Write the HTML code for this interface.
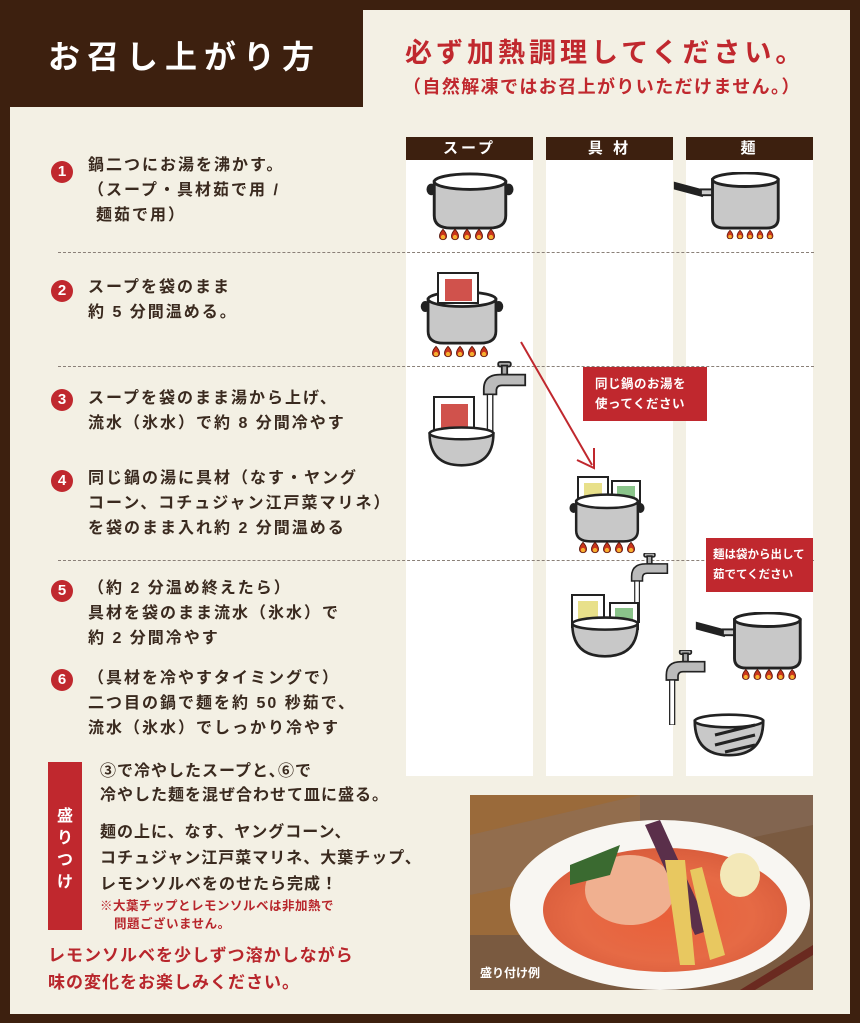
<!DOCTYPE html>
<html><head><meta charset="utf-8"><style>
*{margin:0;padding:0;box-sizing:border-box}
body{width:860px;height:1023px;position:relative;background:#3d200f;font-family:"Liberation Sans","Noto Sans CJK JP",sans-serif;overflow:hidden;color:#3a2a1f;font-weight:bold}
.cream{position:absolute;background:#f3f0e4}
.t{position:absolute;white-space:nowrap;font-size:16px;letter-spacing:2px;line-height:20px}
.num{position:absolute;width:22px;height:22px;border-radius:50%;background:#c0282e;color:#fff;font-size:15px;text-align:center;line-height:22px;left:51px}
.col{position:absolute;top:137px;width:127px;height:639px;background:#fff}
.col div{height:23px;background:#3d200f;color:#fff;text-align:center;font-size:15px;line-height:23px;letter-spacing:3px}
.dash{position:absolute;left:58px;width:756px;border-top:1.5px dashed #8a8078}
.red{color:#b8262c}
.box{position:absolute;background:#c0282e;color:#fff;font-size:12.5px;line-height:20px;letter-spacing:0.5px;padding:7px 0 0 12px;white-space:nowrap;overflow:hidden}
</style></head><body>
<div class="cream" style="left:10px;top:107px;width:840px;height:907px"></div>
<div class="cream" style="left:363px;top:10px;width:487px;height:100px"></div>
<div class="t" style="left:48px;top:37px;font-size:32px;line-height:40px;letter-spacing:7px;color:#fff">お召し上がり方</div>
<div class="t red" style="left:405px;top:37px;font-size:27px;line-height:32px;letter-spacing:4px;color:#c0282e">必ず加熱調理してください。</div>
<div class="t red" style="left:403px;top:76px;font-size:18px;line-height:22px;letter-spacing:1.4px;color:#c0282e">（自然解凍ではお召上がりいただけません。）</div>

<div class="col" style="left:406px"><div>スープ</div></div>
<div class="col" style="left:546px"><div>具 材</div></div>
<div class="col" style="left:686px"><div>麺</div></div>

<div class="dash" style="top:252px"></div>
<div class="dash" style="top:366px"></div>
<div class="dash" style="top:560px"></div>

<div class="num" style="top:161px">1</div>
<div class="t" style="left:88px;top:156px">鍋二つにお湯を沸かす。</div>
<div class="t" style="left:88px;top:181px">（スープ・具材茹で用 /</div>
<div class="t" style="left:96px;top:206px">麺茹で用）</div>
<div class="num" style="top:280px">2</div>
<div class="t" style="left:88px;top:278px">スープを袋のまま</div>
<div class="t" style="left:88px;top:303px">約 5 分間温める。</div>
<div class="num" style="top:389px">3</div>
<div class="t" style="left:88px;top:389px">スープを袋のまま湯から上げ、</div>
<div class="t" style="left:88px;top:414px">流水（氷水）で約 8 分間冷やす</div>
<div class="num" style="top:470px">4</div>
<div class="t" style="left:88px;top:469px">同じ鍋の湯に具材（なす・ヤング</div>
<div class="t" style="left:88px;top:494px">コーン、コチュジャン江戸菜マリネ）</div>
<div class="t" style="left:88px;top:519px">を袋のまま入れ約 2 分間温める</div>
<div class="num" style="top:580px">5</div>
<div class="t" style="left:88px;top:579px">（約 2 分温め終えたら）</div>
<div class="t" style="left:88px;top:604px">具材を袋のまま流水（氷水）で</div>
<div class="t" style="left:88px;top:629px">約 2 分間冷やす</div>
<div class="num" style="top:669px">6</div>
<div class="t" style="left:88px;top:669px">（具材を冷やすタイミングで）</div>
<div class="t" style="left:88px;top:694px">二つ目の鍋で麺を約 50 秒茹で、</div>
<div class="t" style="left:88px;top:719px">流水（氷水）でしっかり冷やす</div>

<div style="position:absolute;left:48px;top:762px;width:34px;height:168px;background:#c0282e;color:#fff;font-size:16px;line-height:22px;text-align:center;padding-top:44px">盛<br>り<br>つ<br>け</div>
<div class="t" style="left:100px;top:762px;letter-spacing:1px">③で冷やしたスープと､⑥で</div>
<div class="t" style="left:100px;top:786px;letter-spacing:1px">冷やした麺を混ぜ合わせて皿に盛る。</div>
<div class="t" style="left:100px;top:823px;letter-spacing:1px">麺の上に、なす、ヤングコーン、</div>
<div class="t" style="left:100px;top:849px;letter-spacing:1px">コチュジャン江戸菜マリネ、大葉チップ、</div>
<div class="t" style="left:100px;top:875px;letter-spacing:1px">レモンソルベをのせたら完成！</div>
<div class="t red" style="left:100px;top:897px;font-size:12.5px;line-height:18px;letter-spacing:0.5px">※大葉チップとレモンソルベは非加熱で</div>
<div class="t red" style="left:114px;top:915px;font-size:12.5px;line-height:18px;letter-spacing:0.5px">問題ございません。</div>
<div class="t red" style="left:48px;top:945px;font-size:17px;line-height:22px;letter-spacing:1px">レモンソルベを少しずつ溶かしながら</div>
<div class="t red" style="left:48px;top:972px;font-size:17px;line-height:22px;letter-spacing:1px">味の変化をお楽しみください。</div>

<svg style="position:absolute;left:470px;top:795px" width="343" height="195">
<defs><radialGradient id="g" cx="0.5" cy="0.55" r="0.6"><stop offset="0" stop-color="#e9603a"/><stop offset="0.6" stop-color="#e66a45"/><stop offset="1" stop-color="#d65a3a"/></radialGradient></defs>
<rect width="343" height="195" fill="#7a5a40"/>
<rect x="0" y="0" width="170" height="140" fill="#9a6a3a"/>
<path d="M0 40 L170 0 L343 0 L343 30 L0 100Z" fill="#8a7060" opacity=".5"/>
<ellipse cx="190" cy="110" rx="150" ry="85" fill="#f8f6f2"/>
<ellipse cx="195" cy="115" rx="122" ry="62" fill="url(#g)"/>
<ellipse cx="160" cy="95" rx="45" ry="35" fill="#f0b090"/>
<path d="M175 30 L225 140 L240 135 L190 25Z" fill="#5a2f4a"/>
<path d="M195 65 L210 170 L225 170 L215 65Z" fill="#e8c860"/>
<path d="M220 75 L240 165 L255 160 L232 72Z" fill="#e8c860"/>
<ellipse cx="270" cy="80" rx="20" ry="22" fill="#f3e8b8"/>
<path d="M100 70 L150 50 L140 80 L100 90Z" fill="#3a6a30"/>
<path d="M270 195 L343 150 L343 160 L285 195Z" fill="#6a2a20"/>
<text x="10" y="182" fill="#fff" font-size="12" font-weight="bold" font-family="Liberation Sans,Noto Sans CJK JP,sans-serif">盛り付け例</text>
</svg>

<svg style="position:absolute;left:0;top:0" width="860" height="1023">
<defs>
<symbol id="fl" viewBox="0 0 70 14"><g fill="#c9341c" stroke="#5a1a10" stroke-width="1"><path d="M7 1 C12 6 13 13 7 13 C1 13 2 6 7 1Z"/><path d="M21 1 C26 6 27 13 21 13 C15 13 16 6 21 1Z"/><path d="M35 1 C40 6 41 13 35 13 C29 13 30 6 35 1Z"/><path d="M49 1 C54 6 55 13 49 13 C43 13 44 6 49 1Z"/><path d="M63 1 C68 6 69 13 63 13 C57 13 58 6 63 1Z"/></g><g fill="#f5b030"><circle cx="7" cy="10" r="2.5"/><circle cx="21" cy="10" r="2.5"/><circle cx="35" cy="10" r="2.5"/><circle cx="49" cy="10" r="2.5"/><circle cx="63" cy="10" r="2.5"/></g></symbol>
<symbol id="pot" viewBox="0 0 90 60"><ellipse cx="5" cy="18" rx="5" ry="6" fill="#222"/><ellipse cx="85" cy="18" rx="5" ry="6" fill="#222"/><path d="M8 10 L8 45 Q8 58 25 58 L65 58 Q82 58 82 45 L82 10Z" fill="#c8c8c8" stroke="#222" stroke-width="3"/><ellipse cx="45" cy="10" rx="37" ry="8" fill="#fff" stroke="#222" stroke-width="3"/></symbol>
<symbol id="pan" viewBox="0 0 110 60"><path d="M0 10 L30 18 L30 26 L0 18Z" fill="#222"/><rect x="28" y="18" width="14" height="6" fill="#ccc" stroke="#222" stroke-width="2"/><path d="M40 8 L40 48 Q40 58 52 58 L96 58 Q108 58 108 48 L108 8Z" fill="#c8c8c8" stroke="#222" stroke-width="3"/><ellipse cx="74" cy="8" rx="34" ry="7" fill="#fff" stroke="#222" stroke-width="3"/></symbol>
<symbol id="bowl" viewBox="0 0 80 50"><path d="M2 10 Q2 48 40 48 Q78 48 78 10Z" fill="#c8c8c8" stroke="#222" stroke-width="3"/><ellipse cx="40" cy="10" rx="38" ry="7" fill="#fff" stroke="#222" stroke-width="3"/></symbol>
<symbol id="tap" viewBox="0 0 50 90"><rect x="18" y="0" width="14" height="5" rx="2" fill="#aaa" stroke="#222" stroke-width="2"/><rect x="22" y="4" width="6" height="10" fill="#aaa" stroke="#222" stroke-width="2"/><path d="M2 30 Q2 14 20 14 L48 14 L48 26 L22 26 Q16 26 16 32 L16 36 L2 36Z" fill="#bbb" stroke="#222" stroke-width="2"/><rect x="6" y="36" width="6" height="54" fill="#fff" stroke="#222" stroke-width="1.5"/></symbol>
</defs>
<use href="#pot" x="425" y="172" width="90" height="58"/>
<use href="#fl" x="437" y="228" width="60" height="13"/>
<use href="#pan" x="672" y="172" width="110" height="58"/>
<use href="#fl" x="725" y="228" width="50" height="13"/>
<rect x="438" y="273" width="40" height="38" fill="#fff" stroke="#222" stroke-width="2"/>
<rect x="445" y="280" width="27" height="25" fill="#d0524c"/>
<use href="#pot" x="417" y="290" width="90" height="55"/>
<rect x="438" y="273" width="40" height="30" fill="#fff" stroke="#222" stroke-width="2"/>
<rect x="445" y="279" width="27" height="22" fill="#d0524c"/>
<use href="#fl" x="430" y="345" width="60" height="13"/>
<use href="#tap" x="482" y="360" width="45" height="85"/>
<rect x="434" y="397" width="40" height="38" fill="#fff" stroke="#222" stroke-width="2"/>
<rect x="441" y="404" width="27" height="25" fill="#d0524c"/>
<use href="#bowl" x="425" y="425" width="73" height="42"/>
<path d="M521 342 L592 465" stroke="#c0282e" stroke-width="2" fill="none"/>
<path d="M577 460 L594 468 L594 448" stroke="#c0282e" stroke-width="2" fill="none"/>
<rect x="578" y="477" width="30" height="30" fill="#fff" stroke="#222" stroke-width="2"/>
<rect x="584" y="483" width="18" height="20" fill="#e8e08a"/>
<rect x="612" y="481" width="28" height="26" fill="#fff" stroke="#222" stroke-width="2"/>
<rect x="617" y="486" width="18" height="16" fill="#8ac48a"/>
<use href="#pot" x="563" y="493" width="88" height="50"/>
<use href="#fl" x="577" y="541" width="60" height="13"/>
<use href="#tap" x="627" y="553" width="45" height="70"/>
<rect x="572" y="595" width="32" height="32" fill="#fff" stroke="#222" stroke-width="2"/>
<rect x="578" y="601" width="20" height="20" fill="#e8e08a"/>
<rect x="610" y="603" width="28" height="26" fill="#fff" stroke="#222" stroke-width="2"/>
<rect x="615" y="608" width="18" height="16" fill="#8ac48a"/>
<use href="#bowl" x="568" y="615" width="74" height="43"/>
<use href="#pan" x="695" y="612" width="108" height="58"/>
<use href="#fl" x="740" y="668" width="58" height="13"/>
<use href="#tap" x="663" y="650" width="45" height="75"/>
<use href="#bowl" x="692" y="712" width="74" height="45"/>
<path d="M715 735 L755 725 M715 745 L755 735 M725 752 L755 745" stroke="#222" stroke-width="3"/>
</svg>
<div class="box" style="left:583px;top:367px;width:124px;height:54px">同じ鍋のお湯を<br>使ってください</div>
<div class="box" style="left:706px;top:538px;width:107px;height:54px;padding-left:7px;font-size:11.5px;letter-spacing:0">麺は袋から出して<br>茹でてください</div>
</body></html>
